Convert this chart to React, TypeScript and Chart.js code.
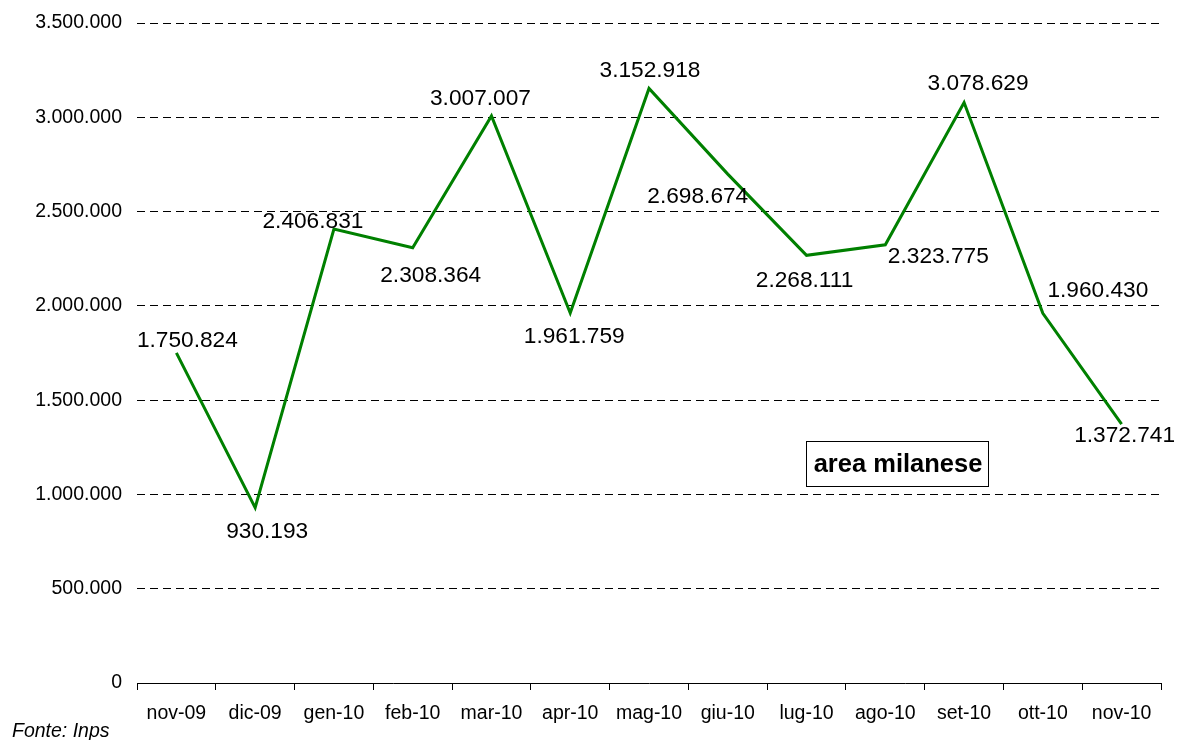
import React, { useEffect, useRef } from 'react';
import { Chart, registerables } from 'chart.js';

Chart.register(...registerables);

const months = ['nov-09', 'dic-09', 'gen-10', 'feb-10', 'mar-10', 'apr-10', 'mag-10', 'giu-10', 'lug-10', 'ago-10', 'set-10', 'ott-10', 'nov-10'];
const values = [1750824, 930193, 2406831, 2308364, 3007007, 1961759, 3152918, 2698674, 2268111, 2323775, 3078629, 1960430, 1372741];
const yMin = 0;
const yMax = 3500000;
const yStep = 500000;
const boxTitle = 'area milanese';
const sourceNote = 'Fonte: Inps';

// label placement offsets (dx, dy) relative to each point, in pixels
const labelOffsets: [number, number][] = [
  [11, -12], [12, 24], [-21, -7], [18, 28], [-11, -17], [4, 24], [1, -18],
  [-30, 23], [-2, 25], [53, 12], [14, -19], [55, -23], [3, 12],
];

const FONT = '"Liberation Sans", Arial, Helvetica, sans-serif';

const fmt = (v: number) => String(Math.round(v)).replace(/\B(?=(\d{3})+(?!\d))/g, '.');

export default function App() {
  const ref = useRef<HTMLCanvasElement>(null);

  useEffect(() => {
    const canvas = ref.current;
    if (!canvas) return;

    const labelPlugin = {
      id: 'pointLabels',
      afterDatasetsDraw(chart: any) {
        const c = chart.ctx as CanvasRenderingContext2D;
        const meta = chart.getDatasetMeta(0);
        c.save();
        c.fillStyle = '#000';
        c.font = `22.7px ${FONT}`;
        c.textAlign = 'center';
        c.textBaseline = 'middle';
        meta.data.forEach((pt: any, i: number) => {
          const [dx, dy] = labelOffsets[i];
          c.fillText(fmt(values[i]), pt.x + dx, pt.y + dy);
        });

        // title box
        c.fillStyle = '#fff';
        c.fillRect(807, 441, 182, 45);
        c.strokeStyle = '#000';
        c.lineWidth = 1;
        c.strokeRect(806.5, 441.5, 182, 45);
        c.fillStyle = '#000';
        c.font = `bold 25.5px ${FONT}`;
        c.fillText(boxTitle, 898, 465);

        // source note
        c.font = `italic 19.5px ${FONT}`;
        c.textAlign = 'left';
        c.textBaseline = 'alphabetic';
        c.fillText(sourceNote, 12, 737);
        c.restore();
      },
    };

    const chart = new Chart(canvas, {
      type: 'line',
      data: {
        labels: months,
        datasets: [
          {
            data: values,
            borderColor: '#008000',
            borderWidth: 3,
            pointRadius: 0,
            tension: 0,
            fill: false,
          },
        ],
      },
      options: {
        animation: false,
        responsive: false,
        layout: { padding: { top: 23, right: 24, left: 0, bottom: 0 } },
        plugins: { legend: { display: false }, tooltip: { enabled: false } },
        scales: {
          x: {
            offset: true,
            grid: { offset: true, drawOnChartArea: false, drawTicks: true, tickLength: 7, color: '#000', lineWidth: 1 },
            border: { display: true, color: '#000', width: 1 },
            ticks: { color: '#000', font: { family: FONT, size: 19.5 }, padding: 12, maxRotation: 0, autoSkip: false },
            afterFit: (s: any) => { s.height = 57; s.paddingLeft = 0; s.paddingRight = 0; },
          },
          y: {
            min: yMin,
            max: yMax,
            ticks: {
              stepSize: yStep,
              callback: (v: any) => fmt(Number(v)),
              color: '#000',
              font: { family: FONT, size: 19.5 },
              padding: 15,
            },
            grid: {
              color: (ctx: any) => (ctx.tick && ctx.tick.value === 0 ? 'rgba(0,0,0,0)' : '#000'),
              drawTicks: false,
              lineWidth: 1,
            },
            border: { display: false, dash: [8, 5] },
            afterFit: (s: any) => { s.width = 137; s.paddingTop = 0; s.paddingBottom = 0; },
          },
        },
      },
      plugins: [labelPlugin],
    });

    return () => chart.destroy();
  }, []);

  return (
    <div style={{ position: 'absolute', left: 0, top: 0, width: 1185, height: 740, background: '#fff' }}>
      <canvas ref={ref} width={1185} height={740} style={{ display: 'block' }} />
    </div>
  );
}
